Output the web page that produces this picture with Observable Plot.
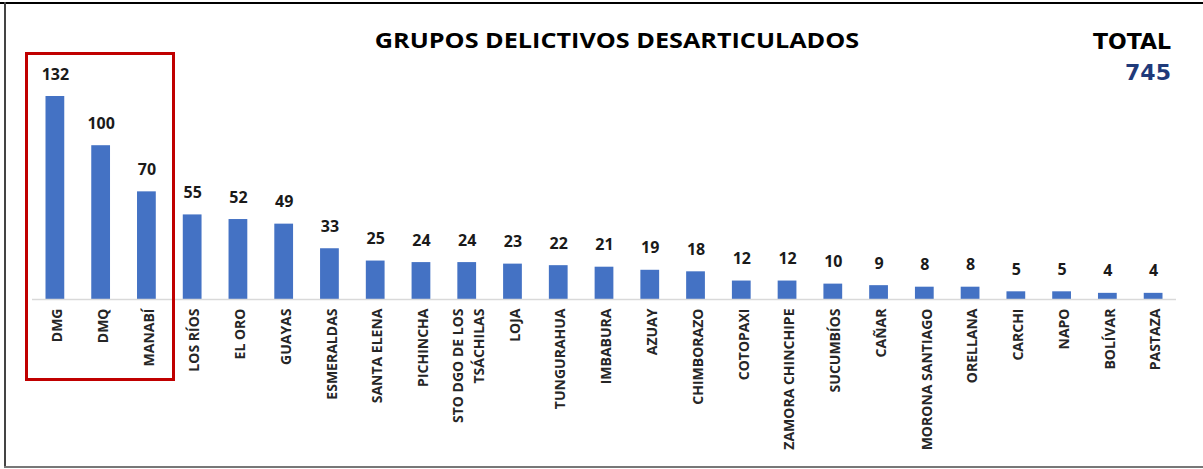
<!DOCTYPE html>
<html>
<head>
<meta charset="utf-8">
<script src="https://cdn.jsdelivr.net/npm/d3@7"></script>
<script src="https://cdn.jsdelivr.net/npm/@observablehq/plot@0.6"></script>
<style>
  html, body { margin: 0; padding: 0; background: #fff; }
  #wrap { position: relative; width: 1203px; height: 469px; overflow: hidden; }
  #chart { position: absolute; left: 0; top: 0; }
  .title { position: absolute; left: 617px; top: 26px; white-space: nowrap;
           transform: translateX(-50%) scaleX(1.2);
           font: bold 21px "Open Sans", sans-serif; color: #000; }
  .total { position: absolute; right: 32px; top: 26px; text-align: right;
           font: bold 22px "DejaVu Sans", sans-serif; color: #000; line-height: 31px; }
  .total .num { color: #1F3A7A; }
  .frameTop { position: absolute; left: 0; top: 2px; width: 1203px; height: 2px; background: #000; }
  .frameLeft { position: absolute; left: 4px; top: 2px; width: 2px; height: 466px; background: #444; }
  .frameBottom { position: absolute; left: 4px; top: 466px; width: 1199px; height: 2px; background: #777; }
  .redbox { position: absolute; left: 25px; top: 52px; width: 144px; height: 323px;
            border: 3px solid #C00000; }
</style>
</head>
<body>
<div id="wrap">
  <div id="chart"></div>
  <div class="frameTop"></div>
  <div class="frameLeft"></div>
  <div class="frameBottom"></div>
  <div class="title">GRUPOS DELICTIVOS DESARTICULADOS</div>
  <div class="total">TOTAL<br><span class="num">745</span></div>
  <div class="redbox"></div>
</div>
<script>
const categories = ["DMG", "DMQ", "MANABÍ", "LOS RÍOS", "EL ORO", "GUAYAS", "ESMERALDAS", "SANTA ELENA",
  "PICHINCHA", "STO DGO DE LOS\nTSÁCHILAS", "LOJA", "TUNGURAHUA", "IMBABURA", "AZUAY", "CHIMBORAZO",
  "COTOPAXI", "ZAMORA CHINCHIPE", "SUCUMBÍOS", "CAÑAR", "MORONA SANTIAGO", "ORELLANA", "CARCHI",
  "NAPO", "BOLÍVAR", "PASTAZA"];
const values = [132, 100, 70, 55, 52, 49, 33, 25, 24, 24, 23, 22, 21, 19, 18, 12, 12, 10, 9, 8, 8, 5, 5, 4, 4];

const data = categories.map((c, i) => ({category: c, value: values[i]}));

const chart = Plot.plot({
  width: 1203,
  height: 469,
  marginTop: 96,
  marginBottom: 170,
  marginLeft: 32,
  marginRight: 27,
  style: {background: "transparent", overflow: "visible"},
  x: {domain: categories, paddingInner: 0.59, paddingOuter: 0.295, round: false, label: null},
  y: {domain: [0, 132], axis: null},
  marks: [
    Plot.axisX({
      tickSize: 0,
      tickPadding: 9,
      tickRotate: -90,
      fontSize: 14,
      fontWeight: "bold",
      fontFamily: "Open Sans",
      lineHeight: 1.5,
      fill: "#262626",
      label: null
    }),
    Plot.barY(data, {x: "category", y: "value", fill: "#4472C4"}),
    Plot.ruleY([0], {stroke: "#D9D9D9", strokeWidth: 1.5}),
    Plot.text(data, {x: "category", y: "value", text: d => String(d.value), lineAnchor: "bottom", dy: -17,
      fontSize: 16, fontWeight: "bold", fontFamily: "Open Sans", fill: "#1a1a1a"})
  ]
});
document.getElementById("chart").appendChild(chart);
</script>
</body>
</html>
